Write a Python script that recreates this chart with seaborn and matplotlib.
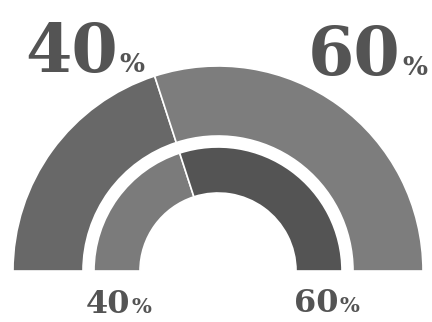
import matplotlib
matplotlib.use("Agg")
import matplotlib.pyplot as plt
import seaborn as sns

# Data
categories = ["A", "B"]
outer_values = [40, 60]
inner_values = [40, 60]
top_labels = ["40", "60"]
bottom_labels = ["40", "60"]
pct_sign = "%"

sns.set_theme(style="white")
plt.rcParams["font.family"] = ["DejaVu Serif", "DejaVu Sans"]

outer_colors = ["#686868", "#7d7d7d"]
inner_colors = ["#7b7b7b", "#545454"]
text_color = "#545454"

fig = plt.figure(figsize=(4.32, 3.22), dpi=100)
ax = fig.add_axes([0, 0, 1, 1])

cx, cy = 218, 51

def half_donut(values, colors, radius, width):
    total = sum(values)
    vals = list(values) + [total]
    cols = list(colors) + ["none"]
    wedges, _ = ax.pie(vals, colors=cols, startangle=180, counterclock=False,
                       radius=radius, center=(cx, cy), frame=True,
                       wedgeprops=dict(width=width, linewidth=1.2, edgecolor="white"))
    wedges[-1].set_edgecolor("none")
    wedges[-1].set_facecolor("none")

half_donut(outer_values, outer_colors, 205, 70)
half_donut(inner_values, inner_colors, 124, 46)
ax.set_xlim(0, 432)
ax.set_ylim(0, 322)
ax.set_aspect("equal")
ax.axis("off")

def label(num, x, y, big, small):
    ax.text(x, y, num, ha="right", va="baseline", fontsize=big,
            fontweight="bold", color=text_color)
    ax.text(x + 1, y, pct_sign, ha="left", va="baseline", fontsize=small,
            fontweight="bold", color=text_color)

label(top_labels[0], 118, 250, 48, 19)
label(top_labels[1], 401, 247, 48, 19)
label(bottom_labels[0], 130, 9, 23, 15)
label(bottom_labels[1], 338, 10, 23, 15)

fig.savefig("out.png", dpi=100, facecolor="white")
